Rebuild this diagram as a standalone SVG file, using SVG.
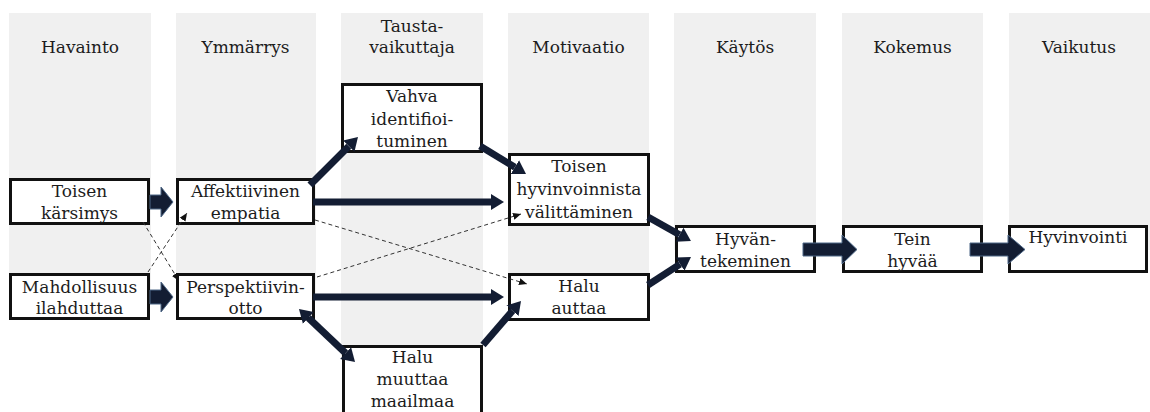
<svg xmlns="http://www.w3.org/2000/svg" width="1150" height="412" viewBox="0 0 1150 412">
<style>
.col{fill:#f0f0f0}
.hd{font-family:"DejaVu Serif","Liberation Serif",serif;font-size:17px;fill:#1c1c1c;text-anchor:middle}
.box{fill:#fff;stroke:#111;stroke-width:3}
.tx{font-family:"DejaVu Serif","Liberation Serif",serif;font-size:17px;fill:#1c1c1c;text-anchor:middle}
.thick{stroke:#131d33;stroke-width:7;fill:none}
.block{fill:#131d33;stroke:#4d6786;stroke-width:1}
.dash{stroke:#333;stroke-width:1;stroke-dasharray:4 3;fill:none}
</style>
<defs>
<marker id="ah" markerUnits="userSpaceOnUse" markerWidth="14" markerHeight="18" viewBox="0 -9 14 18" refX="0" refY="0" orient="auto-start-reverse">
<path d="M0,-8 L13,0 L0,8 z" fill="#131d33"/>
</marker>
<marker id="sh" markerUnits="userSpaceOnUse" markerWidth="9" markerHeight="8" viewBox="0 -4 9 8" refX="8" refY="0" orient="auto">
<path d="M0,-3.5 L8,0 L0,3.5 z" fill="#111"/>
</marker>
</defs>
<g id="columns">
<rect class="col" x="9" y="13" width="142" height="287"/>
<rect class="col" x="176" y="13" width="140" height="287"/>
<rect class="col" x="341" y="13" width="142" height="347"/>
<rect class="col" x="508" y="13" width="141" height="287"/>
<rect class="col" x="674" y="13" width="142" height="237"/>
<rect class="col" x="842" y="13" width="141" height="237"/>
<rect class="col" x="1009" y="13" width="141" height="237"/>
<text class="hd" x="80" y="53">Havainto</text>
<text class="hd" x="245.5" y="53">Ymmärrys</text>
<text class="hd" x="412" y="32">Tausta-</text>
<text class="hd" x="412" y="53">vaikuttaja</text>
<text class="hd" x="578.5" y="53">Motivaatio</text>
<text class="hd" x="745" y="53">Käytös</text>
<text class="hd" x="912.5" y="53">Kokemus</text>
<text class="hd" x="1079" y="53">Vaikutus</text>
</g>
<g id="n-toisen-karsimys">
<rect class="box" x="10.5" y="179.5" width="138" height="44"/>
<text class="tx" x="79.5" y="197">Toisen</text>
<text class="tx" x="79.5" y="219">kärsimys</text>
</g>
<g id="n-affektiivinen">
<rect class="box" x="177.5" y="179.5" width="136" height="44"/>
<text class="tx" x="245.5" y="197">Affektiivinen</text>
<text class="tx" x="245.5" y="219">empatia</text>
</g>
<g id="n-mahdollisuus">
<rect class="box" x="10.5" y="274.5" width="138" height="44"/>
<text class="tx" x="79.5" y="293">Mahdollisuus</text>
<text class="tx" x="79.5" y="314">ilahduttaa</text>
</g>
<g id="n-perspektiivinotto">
<rect class="box" x="177.5" y="274.5" width="136" height="44"/>
<text class="tx" x="245.5" y="293">Perspektiivin-</text>
<text class="tx" x="245.5" y="314">otto</text>
</g>
<g id="n-vahva">
<rect class="box" x="342.5" y="84.5" width="139" height="67"/>
<text class="tx" x="412" y="102">Vahva</text>
<text class="tx" x="412" y="125">identifioi-</text>
<text class="tx" x="412" y="147">tuminen</text>
</g>
<g id="n-halu-muuttaa">
<rect class="box" x="343.5" y="346.5" width="138" height="80"/>
<text class="tx" x="412.5" y="363">Halu</text>
<text class="tx" x="412.5" y="385">muuttaa</text>
<text class="tx" x="412.5" y="407">maailmaa</text>
</g>
<g id="n-toisen-hyvinvoinnista">
<rect class="box" x="509.5" y="154.5" width="139" height="70"/>
<text class="tx" x="579" y="172">Toisen</text>
<text class="tx" x="579" y="195">hyvinvoinnista</text>
<text class="tx" x="579" y="218">välittäminen</text>
</g>
<g id="n-halu-auttaa">
<rect class="box" x="509.5" y="274.5" width="139" height="45"/>
<text class="tx" x="579" y="292">Halu</text>
<text class="tx" x="579" y="314">auttaa</text>
</g>
<g id="n-hyvantekeminen">
<rect class="box" x="676.5" y="226.5" width="138" height="45"/>
<text class="tx" x="745.5" y="245">Hyvän-</text>
<text class="tx" x="745.5" y="267">tekeminen</text>
</g>
<g id="n-tein-hyvaa">
<rect class="box" x="843.5" y="226.5" width="138" height="45"/>
<text class="tx" x="912.5" y="245">Tein</text>
<text class="tx" x="912.5" y="267">hyvää</text>
</g>
<g id="n-hyvinvointi">
<rect class="box" x="1009.5" y="226.5" width="137" height="45"/>
<text class="tx" x="1078" y="243">Hyvinvointi</text>
</g>
<g id="connectors">
<path class="dash" d="M143,222 L179,281" marker-end="url(#sh)"/>
<path class="dash" d="M148,272 L187,213" marker-end="url(#sh)"/>
<path class="dash" d="M315,220 L527,284" marker-end="url(#sh)"/>
<path class="dash" d="M317,277 L521,214" marker-end="url(#sh)"/>
<polygon class="block" points="150,195 161,195 161,187 173,202 161,217 161,209 150,209"/>
<polygon class="block" points="150,290 161,290 161,282 173,297 161,312 161,304 150,304"/>
<polygon class="block" points="803,243 842,243 842,235 857,249.5 842,264 842,256 803,256"/>
<polygon class="block" points="970,243 1008,243 1008,235 1025,249.5 1008,264 1008,256 970,256"/>
<path class="thick" d="M310,185 L348.8,146.2" marker-end="url(#ah)"/>
<path class="thick" d="M480,146 L514.9,167.2" marker-end="url(#ah)"/>
<path class="thick" d="M313,202 L491,202" marker-end="url(#ah)"/>
<path class="thick" d="M313,297 L491,297" marker-end="url(#ah)"/>
<path class="thick" d="M308.4,317.9 L345.6,353.1" marker-start="url(#ah)" marker-end="url(#ah)"/>
<path class="thick" d="M483,345 L512.5,310.8" marker-end="url(#ah)"/>
<path class="thick" d="M648,217 L679.6,234.7" marker-end="url(#ah)"/>
<path class="thick" d="M648,285 L680.1,264.1" marker-end="url(#ah)"/>
</g>
</svg>
